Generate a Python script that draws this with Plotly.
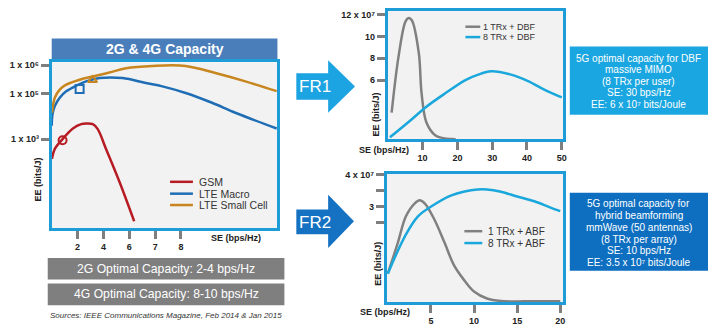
import plotly.graph_objects as go

W, H = 713, 329

# ---------------- Data: 2G & 4G capacity (left chart) ----------------
left_x_tickvals = [1, 2, 3, 4, 5]
left_x_ticktext = ["2", "4", "6", "7", "8"]
left_y_tickvals = [53.6, 81.0, 98.2]
left_y_ticktext = ["1 x 10³", "1 x 10⁵", "1 x 10⁶"]

gsm_se = [0.01, 0.12, 0.37, 0.82, 1.14, 1.33, 1.59, 1.78, 2.10, 2.62, 3.19]
gsm_ee = [41.8, 47.8, 52.8, 60.1, 62.7, 63.1, 62.7, 59.7, 47.8, 28.0, 4.2]

macro_se = [0.0, 0.03, 0.12, 0.31, 0.56, 0.95, 1.33, 1.85, 2.74, 3.64, 4.28, 5.18, 6.20, 7.10, 8.70]
macro_ee = [61.7, 68.6, 73.6, 78.6, 82.5, 85.9, 88.5, 90.5, 90.5, 87.5, 85.5, 81.5, 75.6, 69.6, 60.1]

small_se = [0.01, 0.12, 0.31, 0.56, 1.08, 1.59, 2.23, 2.87, 3.90, 5.18, 6.33, 7.49, 8.70]
small_ee = [69.6, 78.6, 83.5, 86.5, 89.5, 91.5, 93.8, 96.4, 97.8, 97.8, 93.5, 88.5, 82.6]

optimum_se = [0.42, 1.08, 1.58]
optimum_ee = [53.0, 83.9, 89.3]

# ---------------- Data: FR1 (DBF) ----------------
fr1_x_tickvals = [10, 20, 30, 40, 50]
fr1_y_tickvals = [6, 8, 10, 12]
fr1_y_ticktext = ["6", "8", "10", "12 x 10⁷"]

dbf1_se = [1.1, 3.1, 5.1, 6.0, 6.9, 8.9, 9.7, 11.1, 13.7, 16.0, 18.3, 19.5]
dbf1_ee = [3.0, 8.2, 11.4, 11.7, 11.5, 8.5, 4.8, 2.1, 0.9, 0.65, 0.57, 0.56]

dbf8_se = [0.6, 6.9, 10.9, 16.6, 22.3, 26.0, 29.7, 35.4, 40.3, 45.1, 50.0]
dbf8_ee = [0.73, 2.4, 3.5, 4.8, 6.0, 6.5, 6.8, 6.5, 5.9, 5.1, 4.4]

# ---------------- Data: FR2 (ABF) ----------------
fr2_x_tickvals = [5, 10, 15, 20]
fr2_y_tickvals = [2.5, 3, 3.5, 4]
fr2_y_ticktext = [" ", "3", " ", "4 x 10⁷"]

abf1_se = [0.0, 1.15, 2.1, 3.1, 3.7, 4.3, 5.4, 6.6, 7.7, 8.9, 10.0, 11.5, 13.1, 16.0, 20.0]
abf1_ee = [0.9, 1.86, 2.7, 3.1, 3.2, 3.1, 2.6, 1.86, 1.15, 0.68, 0.34, 0.12, 0.04, 0.03, 0.03]

abf8_se = [0.0, 2.0, 3.5, 5.4, 7.3, 8.9, 10.4, 11.5, 13.0, 15.0, 17.0, 18.8, 20.0]
abf8_ee = [0.9, 2.08, 2.7, 3.07, 3.35, 3.48, 3.54, 3.54, 3.48, 3.32, 3.17, 2.98, 2.86]

# ---------------- Styles ----------------
FONT = "Arial, Liberation Sans, sans-serif"
RED = "#b71c24"
BLUE = "#1f6db5"
ORANGE = "#c7861f"
GRAY = "#808080"
TEAL = "#1aa8dc"
BORDER = "#1e9cd8"
TICKC = "#7f7f7f"


def px(x):
    return x / W


def py(y):
    return 1 - y / H


fig = go.Figure()

# left chart traces
fig.add_trace(go.Scatter(x=gsm_se, y=gsm_ee, mode="lines", line=dict(color=RED, width=2.5, shape="spline"),
                         name="GSM", xaxis="x", yaxis="y", showlegend=False))
fig.add_trace(go.Scatter(x=macro_se, y=macro_ee, mode="lines", line=dict(color=BLUE, width=2.5, shape="spline"),
                         name="LTE Macro", xaxis="x", yaxis="y", showlegend=False))
fig.add_trace(go.Scatter(x=small_se, y=small_ee, mode="lines", line=dict(color=ORANGE, width=2.5, shape="spline"),
                         name="LTE Small Cell", xaxis="x", yaxis="y", showlegend=False))
fig.add_trace(go.Scatter(x=optimum_se, y=optimum_ee, mode="markers",
                         marker=dict(symbol=["circle-open", "square-open", "triangle-up-open"],
                                     color=[RED, BLUE, ORANGE], size=8, line=dict(width=2, color=[RED, BLUE, ORANGE])),
                         xaxis="x", yaxis="y", showlegend=False))

# FR1
fig.add_trace(go.Scatter(x=dbf1_se, y=dbf1_ee, mode="lines", line=dict(color=GRAY, width=2.5, shape="spline"),
                         name="1 TRx + DBF", xaxis="x2", yaxis="y2", showlegend=False))
fig.add_trace(go.Scatter(x=dbf8_se, y=dbf8_ee, mode="lines", line=dict(color=TEAL, width=2.5, shape="spline"),
                         name="8 TRx + DBF", xaxis="x2", yaxis="y2", showlegend=False))

# FR2
fig.add_trace(go.Scatter(x=abf1_se, y=abf1_ee, mode="lines", line=dict(color=GRAY, width=2.5, shape="spline"),
                         name="1 TRx + ABF", xaxis="x3", yaxis="y3", showlegend=False))
fig.add_trace(go.Scatter(x=abf8_se, y=abf8_ee, mode="lines", line=dict(color=TEAL, width=2.5, shape="spline"),
                         name="8 TRx + ABF", xaxis="x3", yaxis="y3", showlegend=False))

axis_common = dict(showgrid=False, zeroline=False, showline=True, linecolor=BORDER, linewidth=3, mirror=True,
                   ticks="outside", tickcolor=TICKC, tickwidth=3, ticklen=8,
                   tickfont=dict(family=FONT, size=9, color="#222", weight="bold"), fixedrange=True)

fig.update_layout(
    width=W, height=H, autosize=False,
    margin=dict(l=0, r=0, t=0, b=0),
    paper_bgcolor="white", plot_bgcolor="#f2f2f2",
    showlegend=False,
    xaxis=dict(domain=[px(52), px(279)], range=[0, 8.73], tickmode="array", tickvals=left_x_tickvals,
               ticktext=left_x_ticktext, anchor="y", **axis_common),
    yaxis=dict(domain=[py(227), py(59)], range=[0, 100], tickmode="array", tickvals=left_y_tickvals,
               ticktext=left_y_ticktext, anchor="x", **axis_common),
    xaxis2=dict(domain=[px(390), px(566)], range=[0, 50.3], tickmode="array", tickvals=fr1_x_tickvals,
                anchor="y2", **axis_common),
    yaxis2=dict(domain=[py(137), py(7)], range=[0.545, 12.36], tickmode="array", tickvals=fr1_y_tickvals,
                ticktext=fr1_y_ticktext, anchor="x2", **axis_common),
    xaxis3=dict(domain=[px(389), px(566)], range=[-0.115, 20.3], tickmode="array", tickvals=fr2_x_tickvals,
                anchor="y3", **axis_common),
    yaxis3=dict(domain=[py(302), py(172)], range=[0, 4.03], tickmode="array", tickvals=fr2_y_tickvals,
                ticktext=fr2_y_ticktext, anchor="x3", **axis_common),
)

shapes = []
annotations = []


def rect(x0, y0, x1, y1, color):
    shapes.append(dict(type="rect", xref="paper", yref="paper", x0=px(x0), x1=px(x1), y0=py(y1), y1=py(y0),
                       fillcolor=color, line=dict(width=0), layer="below"))


def text(x, y, s, size, color="#222", bold=False, italic=False, xanchor="center", angle=0):
    annotations.append(dict(xref="paper", yref="paper", x=px(x), y=py(y), text=s, showarrow=False,
                            xanchor=xanchor, yanchor="middle", textangle=angle, borderpad=0,
                            font=dict(family=FONT, size=size, color=color,
                                      weight="bold" if bold else "normal",
                                      style="italic" if italic else "normal")))


def poly(points, color):
    path = "M " + " L ".join(f"{px(a):.5f},{py(b):.5f}" for a, b in points) + " Z"
    shapes.append(dict(type="path", xref="paper", yref="paper", path=path, fillcolor=color,
                       line=dict(width=0)))


def legline(x0, x1, y, color):
    shapes.append(dict(type="line", xref="paper", yref="paper", x0=px(x0), x1=px(x1), y0=py(y), y1=py(y),
                       line=dict(color=color, width=2.5)))


# title banner
rect(52, 35, 279, 57, "#4a7ebb")
text(165.5, 46, "2G & 4G Capacity", 14, "white", bold=True)

# gray summary boxes
rect(48, 257, 286, 279, "#7f7f7f")
text(167, 268, "2G Optimal Capacity: 2-4 bps/Hz", 12.2, "white")
rect(48, 283, 286, 305, "#7f7f7f")
text(167, 294, "4G Optimal Capacity: 8-10 bps/Hz", 12.2, "white")
text(167, 315, "Sources: IEEE Communications Magazine, Feb 2014 & Jan 2015", 8, "#333", italic=True)

# axis titles
text(237, 237, "SE (bps/Hz)", 9, "#222", bold=True)
text(38, 178, "EE (bits/J)", 9, "#222", bold=True, angle=-90)
text(386, 148, "SE (bps/Hz)", 9, "#222", bold=True)
text(378, 112, "EE (bits/J)", 9, "#222", bold=True, angle=-90)
text(387, 312, "SE (bps/Hz)", 9, "#222", bold=True)
text(380, 263, "EE (bits/J)", 9, "#222", bold=True, angle=-90)

# legends
legline(171, 194, 180, RED)
text(199, 180, "GSM", 10.5, "#333", xanchor="left")
legline(171, 194, 192, BLUE)
text(199, 192, "LTE Macro", 10.5, "#333", xanchor="left")
legline(171, 194, 203.5, ORANGE)
text(199, 203.5, "LTE Small Cell", 10.5, "#333", xanchor="left")

legline(468, 483, 23, GRAY)
text(485, 23, "1 TRx + DBF", 9, "#333", xanchor="left")
legline(468, 483, 33.5, TEAL)
text(485, 33.5, "8 TRx + DBF", 9, "#333", xanchor="left")

legline(467, 485, 230, GRAY)
text(490, 230, "1 TRx + ABF", 10, "#333", xanchor="left")
legline(467, 485, 242, TEAL)
text(490, 242, "8 TRx + ABF", 10, "#333", xanchor="left")

# FR arrows
poly([(298, 70), (330, 70), (330, 57), (357, 83.5), (330, 110), (330, 97), (298, 97)], "#1ba3e2")
text(317, 84, "FR1", 17, "white")
poly([(298, 208), (330, 208), (330, 193), (356, 220), (330, 247), (330, 233), (298, 233)], "#1572c2")
text(317, 221, "FR2", 17, "white")

# info boxes
rect(573, 43, 712, 112, "#1aa6e0")
fr1_lines = ["5G optimal capacity for DBF", "massive MIMO", "(8 TRx per user)", "SE: 30 bps/Hz",
             "EE: 6 x 10⁷ bits/Joule"]
for i, s in enumerate(fr1_lines):
    text(642.5, 55 + i * 11.6, s, 10, "white")

rect(573, 191, 712, 270, "#0e6fc1")
fr2_lines = ["5G optimal capacity for", "hybrid beamforming", "mmWave (50 antennas)", "(8 TRx per array)",
             "SE: 10 bps/Hz", "EE: 3.5 x 10⁷ bits/Joule"]
for i, s in enumerate(fr2_lines):
    text(642.5, 202 + i * 12.0, s, 10, "white")

fig.update_layout(shapes=shapes, annotations=annotations)

fig.write_html("out.html", config={"displayModeBar": False, "staticPlot": True})
